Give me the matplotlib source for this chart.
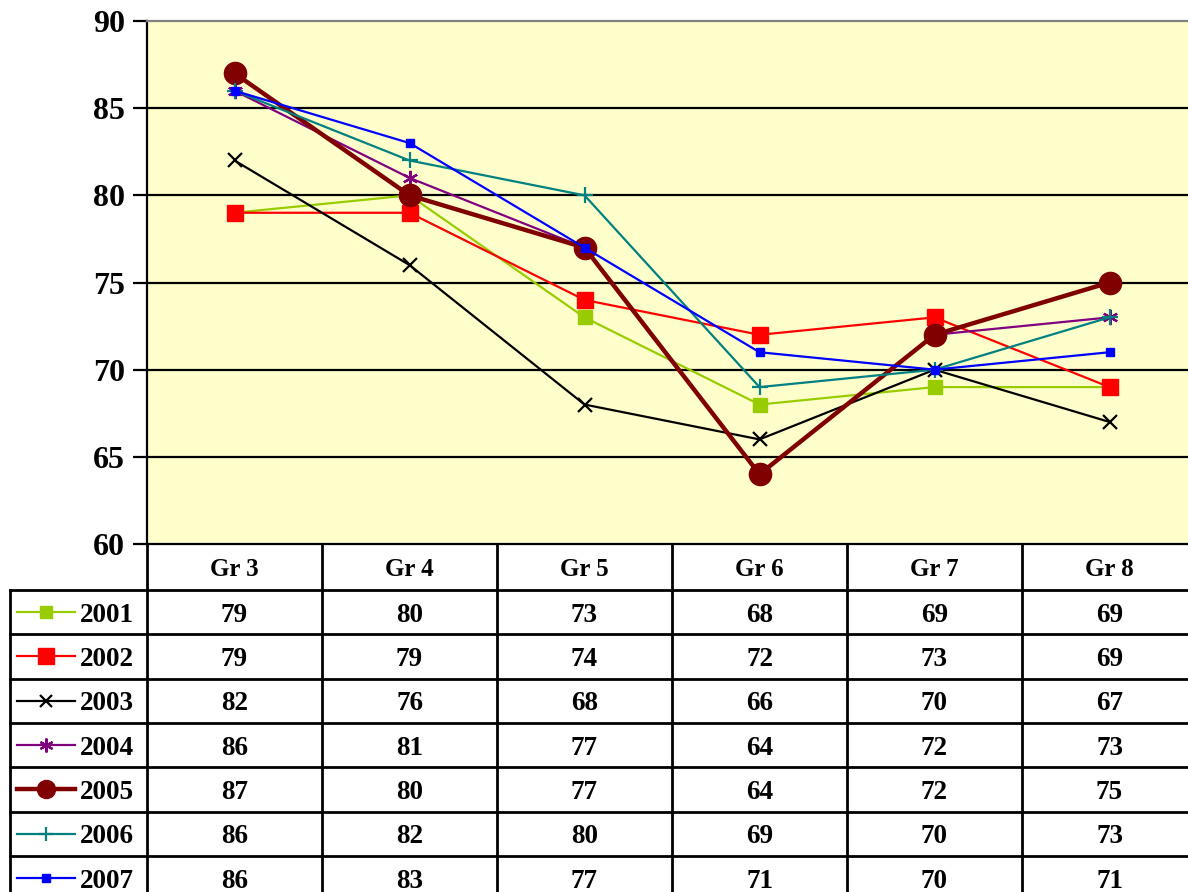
import matplotlib
matplotlib.use("Agg")
import matplotlib.pyplot as plt

plt.rcParams['font.family'] = ['Liberation Serif', 'DejaVu Serif']
plt.rcParams['font.weight'] = 'bold'

grades = ["Gr 3", "Gr 4", "Gr 5", "Gr 6", "Gr 7", "Gr 8"]
years = ["2001", "2002", "2003", "2004", "2005", "2006", "2007"]

y2001 = [79, 80, 73, 68, 69, 69]
y2002 = [79, 79, 74, 72, 73, 69]
y2003 = [82, 76, 68, 66, 70, 67]
y2004 = [86, 81, 77, 64, 72, 73]
y2005 = [87, 80, 77, 64, 72, 75]
y2006 = [86, 82, 80, 69, 70, 73]
y2007 = [86, 83, 77, 71, 70, 71]
series = [y2001, y2002, y2003, y2004, y2005, y2006, y2007]

# colour, marker, markersize, linewidth, marker edge width, legend markersize
styles = [
    ("#99CC00", "s", 9.5, 1.6, 1, 9),
    ("#FF0000", "s", 11.5, 1.6, 1, 11),
    ("#000000", "x", 10, 1.6, 1.6, 9),
    ("#800080", (6, 2, 0), 11, 1.6, 1.6, 10),
    ("#800000", "o", 16, 3.2, 1, 13),
    ("#008080", "+", 11, 1.6, 1.6, 10),
    ("#0000FF", "s", 5.5, 1.6, 1, 5.5),
]

W, H = 1188, 892
fig = plt.figure(figsize=(W / 100, H / 100), dpi=100)

# main plot (extends a bit past the right edge like the original crop)
ax = fig.add_axes([147 / W, 1 - 544 / H, 1050 / W, 523 / H])
ax.set_facecolor("#FFFFCC")
x = list(range(len(grades)))
for vals, (c, m, ms, lw, mew, _) in zip(series, styles):
    ax.plot(x, vals, color=c, marker=m, markersize=ms, linewidth=lw,
            markeredgewidth=mew, markeredgecolor=c, markerfacecolor=c, clip_on=False, zorder=3)
ax.set_xlim(-0.5, 5.5)
ax.set_ylim(60, 90)
ax.set_yticks([60, 65, 70, 75, 80, 85, 90])
for yv in [65, 70, 75, 80, 85]:
    ax.axhline(yv, color="black", linewidth=1.6, zorder=1)
ax.set_xticks([])
ax.tick_params(axis="y", length=10, width=1.6, labelsize=23, pad=6)
for lab in ax.get_yticklabels():
    lab.set_fontweight("bold")
ax.spines["left"].set_linewidth(1.6)
ax.spines["bottom"].set_linewidth(1.6)
ax.spines["top"].set_color("#808080")
ax.spines["top"].set_linewidth(1.6)
ax.spines["right"].set_visible(False)

# data table below the plot
header_h, row_h = 46, 44.33
n = len(years)
tb_h = header_h + n * row_h
tx = fig.add_axes([10 / W, 1 - (544 + tb_h) / H, 1187 / W, tb_h / H])
left = -0.5 - 137 / 175
tx.set_xlim(left, 5.5)
tx.set_ylim(tb_h, 0)
tx.axis("off")

lw = 2.0
# horizontal lines
tx.plot([left, 5.5], [header_h, header_h], color="black", lw=lw, clip_on=False)
for i in range(1, n + 1):
    yy = header_h + i * row_h
    tx.plot([left, 5.5], [yy, yy], color="black", lw=lw, clip_on=False)
# vertical lines
tx.plot([left, left], [header_h, tb_h], color="black", lw=lw, clip_on=False)
for j in range(len(grades) + 1):
    xv = -0.5 + j
    tx.plot([xv, xv], [0, tb_h], color="black", lw=lw, clip_on=False)

for j, g in enumerate(grades):
    tx.text(j, header_h / 2 + 2, g, ha="center", va="center", fontsize=18, fontweight="bold")

for i, (yr, vals, (c, m, ms, lwid, mew, lms)) in enumerate(zip(years, series, styles)):
    yc = header_h + i * row_h + row_h / 2
    x0 = left + 7 / 175
    x1 = left + 65 / 175
    xm = left + 36 / 175
    tx.plot([x0, x1], [yc, yc], color=c, lw=lwid, clip_on=False)
    tx.plot([xm], [yc], color=c, marker=m, markersize=lms, markeredgewidth=mew,
            markeredgecolor=c, markerfacecolor=c, clip_on=False)
    tx.text(left + 70 / 175, yc + 3, yr, ha="left", va="center", fontsize=19.5, fontweight="bold")
    for j, v in enumerate(vals):
        tx.text(j, yc + 3, str(v), ha="center", va="center", fontsize=19.5, fontweight="bold")

fig.savefig("out.png", dpi=100)
